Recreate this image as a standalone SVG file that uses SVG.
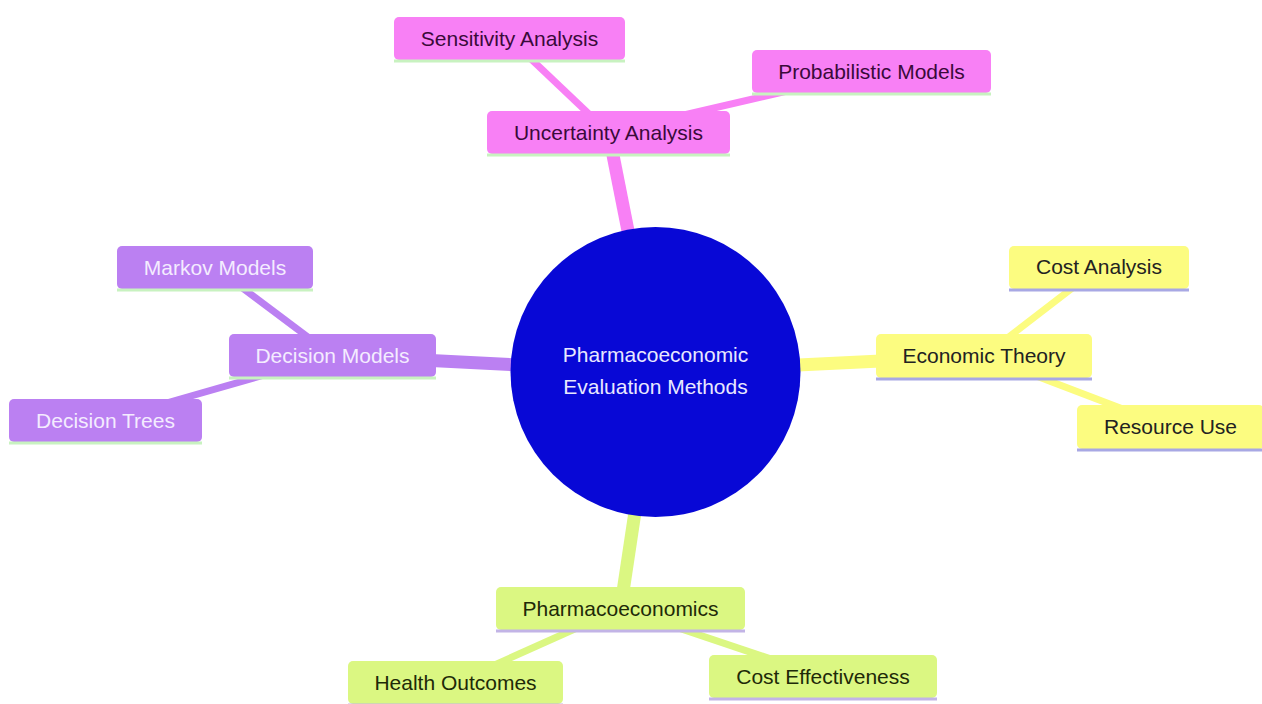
<svg xmlns="http://www.w3.org/2000/svg" width="1262" height="704" viewBox="0 0 1262 704">
<style>
text{font-family:"Liberation Sans",Arial,sans-serif;font-size:21px;text-anchor:middle}
.e1{stroke-width:13;stroke-linecap:butt;fill:none}
.e2{stroke-width:7;stroke-linecap:butt;fill:none}
.pink{fill:#f880f5}.pinkS{stroke:#f880f5}
.purp{fill:#bb80f2}.purpS{stroke:#bb80f2}
.yel{fill:#fcfc80}.yelS{stroke:#fcfc80}
.grn{fill:#dbf782}.grnS{stroke:#dbf782}
.lg{stroke:#c8f2c0;stroke-width:3}
.lb{stroke:#a8a8e4;stroke-width:3}
.ll{stroke:#c2b4e6;stroke-width:3}
.tp{fill:#3a0a3a}.tu{fill:#f4ecff}.ty{fill:#222222}.tg{fill:#1e2a08}
</style>
<rect width="1262" height="704" fill="#ffffff"/>
<g id="connectors">
<line class="e1 pinkS" x1="656" y1="372" x2="608.5" y2="132.5"/>
<line class="e2 pinkS" x1="608.5" y1="132.5" x2="509.5" y2="38.5"/>
<line class="e2 pinkS" x1="608.5" y1="132.5" x2="871.5" y2="71.5"/>
<line class="e1 purpS" x1="656" y1="372" x2="332.5" y2="355.5"/>
<line class="e2 purpS" x1="332.5" y1="355.5" x2="215" y2="267.5"/>
<line class="e2 purpS" x1="332.5" y1="355.5" x2="105.5" y2="420.5"/>
<line class="e1 yelS" x1="656" y1="372" x2="984" y2="356"/>
<line class="e2 yelS" x1="984" y1="356" x2="1099" y2="267.5"/>
<line class="e2 yelS" x1="984" y1="356" x2="1170" y2="427"/>
<line class="e1 grnS" x1="656" y1="372" x2="620.5" y2="608.5"/>
<line class="e2 grnS" x1="620.5" y1="608.5" x2="455.5" y2="682.5"/>
<line class="e2 grnS" x1="620.5" y1="608.5" x2="823" y2="676.5"/>
</g>
<g id="root">
<circle cx="655.5" cy="372" r="145" fill="#0808d6"/>
<text x="655.5" y="362" fill="#e8e8ff">Pharmacoeconomic</text>
<text x="655.5" y="394" fill="#e8e8ff">Evaluation Methods</text>
</g>
<g id="uncertainty">
<rect class="pink" x="487" y="111" width="243" height="43" rx="5"/>
<line class="lg" x1="487" y1="155" x2="730" y2="155"/>
<text class="tp" x="608.5" y="140">Uncertainty Analysis</text>
</g>
<g id="sensitivity">
<rect class="pink" x="394" y="17" width="231" height="43" rx="5"/>
<line class="lg" x1="394" y1="61" x2="625" y2="61"/>
<text class="tp" x="509.5" y="46">Sensitivity Analysis</text>
</g>
<g id="probabilistic">
<rect class="pink" x="752" y="50" width="239" height="43" rx="5"/>
<line class="lg" x1="752" y1="94" x2="991" y2="94"/>
<text class="tp" x="871.5" y="79">Probabilistic Models</text>
</g>
<g id="decisionModels">
<rect class="purp" x="229" y="334" width="207" height="43" rx="5"/>
<line class="lg" x1="229" y1="378" x2="436" y2="378"/>
<text class="tu" x="332.5" y="363">Decision Models</text>
</g>
<g id="markov">
<rect class="purp" x="117" y="246" width="196" height="43" rx="5"/>
<line class="lg" x1="117" y1="290" x2="313" y2="290"/>
<text class="tu" x="215" y="275">Markov Models</text>
</g>
<g id="decisionTrees">
<rect class="purp" x="9" y="399" width="193" height="43" rx="5"/>
<line class="lg" x1="9" y1="443" x2="202" y2="443"/>
<text class="tu" x="105.5" y="428">Decision Trees</text>
</g>
<g id="economicTheory">
<rect class="yel" x="876" y="334" width="216" height="44" rx="5"/>
<line class="lb" x1="876" y1="379" x2="1092" y2="379"/>
<text class="ty" x="984" y="363">Economic Theory</text>
</g>
<g id="costAnalysis">
<rect class="yel" x="1009" y="246" width="180" height="43" rx="5"/>
<line class="lb" x1="1009" y1="290" x2="1189" y2="290"/>
<text class="ty" x="1099" y="274">Cost Analysis</text>
</g>
<g id="resourceUse">
<rect class="yel" x="1077" y="405" width="187" height="44" rx="5"/>
<line class="lb" x1="1077" y1="450" x2="1264" y2="450"/>
<text class="ty" x="1170.5" y="434">Resource Use</text>
</g>
<g id="pharmacoeconomics">
<rect class="grn" x="496" y="587" width="249" height="43" rx="5"/>
<line class="ll" x1="496" y1="631" x2="745" y2="631"/>
<text class="tg" x="620.5" y="616">Pharmacoeconomics</text>
</g>
<g id="healthOutcomes">
<rect class="grn" x="348" y="661" width="215" height="43" rx="5"/>
<line class="ll" x1="348" y1="705" x2="563" y2="705"/>
<text class="tg" x="455.5" y="690">Health Outcomes</text>
</g>
<g id="costEffectiveness">
<rect class="grn" x="709" y="655" width="228" height="43" rx="5"/>
<line class="ll" x1="709" y1="699" x2="937" y2="699"/>
<text class="tg" x="823" y="684">Cost Effectiveness</text>
</g>
</svg>
